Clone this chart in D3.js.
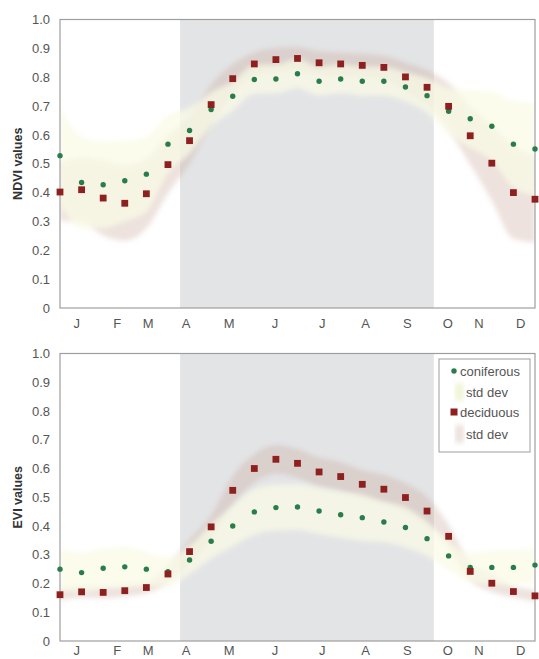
<!DOCTYPE html>
<html>
<head>
<meta charset="utf-8">
<script src="https://cdn.jsdelivr.net/npm/d3@7/dist/d3.min.js"></script>
<style>
  html, body { margin: 0; padding: 0; background: #fff; }
  svg { display: block; font-family: "Liberation Sans", Arial, sans-serif; }
</style>
</head>
<body>
<svg id="chart" width="539" height="659"></svg>
<script>
// 16-day composite dates (day of year)
const doy = [1, 17, 33, 49, 65, 81, 97, 113, 129, 145, 161, 177, 193, 209, 225, 241, 257, 273, 289, 305, 321, 337, 353];

// NDVI means and standard deviations
const ndviConiferous = [0.528, 0.435, 0.427, 0.441, 0.464, 0.568, 0.615, 0.688, 0.734, 0.792, 0.794, 0.812, 0.786, 0.794, 0.786, 0.786, 0.766, 0.736, 0.682, 0.656, 0.630, 0.568, 0.551];
const ndviConiferousSd = [0.17, 0.16, 0.15, 0.14, 0.13, 0.10, 0.08, 0.06, 0.05, 0.05, 0.05, 0.05, 0.05, 0.05, 0.05, 0.05, 0.05, 0.06, 0.08, 0.10, 0.12, 0.15, 0.16];
const ndviDeciduous = [0.402, 0.410, 0.381, 0.363, 0.396, 0.497, 0.580, 0.705, 0.795, 0.846, 0.861, 0.865, 0.850, 0.846, 0.841, 0.834, 0.801, 0.765, 0.699, 0.597, 0.502, 0.400, 0.377];
const ndviDeciduousSd = [0.10, 0.11, 0.13, 0.13, 0.12, 0.10, 0.08, 0.07, 0.05, 0.04, 0.04, 0.04, 0.04, 0.04, 0.04, 0.04, 0.05, 0.06, 0.08, 0.10, 0.13, 0.16, 0.15];

// EVI means and standard deviations
const eviConiferous = [0.250, 0.238, 0.253, 0.258, 0.250, 0.241, 0.282, 0.347, 0.400, 0.449, 0.464, 0.466, 0.452, 0.439, 0.429, 0.414, 0.395, 0.356, 0.296, 0.256, 0.256, 0.256, 0.264];
const eviConiferousSd = [0.07, 0.07, 0.07, 0.07, 0.06, 0.05, 0.05, 0.06, 0.07, 0.08, 0.08, 0.08, 0.08, 0.08, 0.08, 0.07, 0.07, 0.06, 0.05, 0.05, 0.06, 0.06, 0.06];
const eviDeciduous = [0.161, 0.171, 0.169, 0.175, 0.186, 0.233, 0.311, 0.397, 0.524, 0.600, 0.632, 0.618, 0.588, 0.572, 0.545, 0.528, 0.499, 0.452, 0.364, 0.242, 0.201, 0.172, 0.157];
const eviDeciduousSd = [0.02, 0.02, 0.02, 0.02, 0.02, 0.03, 0.04, 0.04, 0.05, 0.05, 0.05, 0.05, 0.05, 0.05, 0.05, 0.05, 0.05, 0.05, 0.04, 0.03, 0.03, 0.02, 0.02];

// Month labels and the day of year each label sits on
const monthLabels = ["J", "F", "M", "A", "M", "J", "J", "A", "S", "O", "N", "D"];
const monthLabelDoy = [13, 43, 66, 94, 126, 160, 195, 227, 258, 288, 311, 342];

// Growing season shading (day of year)
const seasonStart = 90;
const seasonEnd = 278;

const yTicks = [0, 0.1, 0.2, 0.3, 0.4, 0.5, 0.6, 0.7, 0.8, 0.9, 1.0];

const svg = d3.select("#chart");

const defs = svg.append("defs");
defs.append("filter").attr("id", "soft")
  .attr("x", "-10%").attr("y", "-20%").attr("width", "120%").attr("height", "140%")
  .append("feGaussianBlur").attr("stdDeviation", 2.4);

const colors = {
  con: "#2a7d4a",
  dec: "#8e2020",
  conBand: "rgba(250,251,230,0.75)",
  decBand: "rgba(200,165,150,0.32)",
  season: "#e3e4e6",
  frame: "#9e9e9e",
  text: "#555"
};

function panel(opts) {
  const { top, bottom, left, right, title, con, conSd, dec, decSd, labelTop, legend } = opts;
  const x = d3.scaleLinear().domain([1, 353]).range([left, right]);
  const y = d3.scaleLinear().domain([0, 1]).range([bottom, top]);
  const g = svg.append("g");

  const clipId = "clip-" + title.replace(/\s/g, "");
  defs.append("clipPath").attr("id", clipId)
    .append("rect").attr("x", left).attr("y", top).attr("width", right - left).attr("height", bottom - top);

  // growing season shading
  g.append("rect")
    .attr("x", x(seasonStart)).attr("y", top)
    .attr("width", x(seasonEnd) - x(seasonStart)).attr("height", bottom - top)
    .attr("fill", colors.season);

  const plot = g.append("g").attr("clip-path", `url(#${clipId})`);

  const band = (mean, sd) => d3.area()
    .x((d, i) => x(doy[i]))
    .y0((d, i) => y(mean[i] - sd[i]))
    .y1((d, i) => y(mean[i] + sd[i]))
    .curve(d3.curveMonotoneX)(mean);

  plot.append("path").attr("d", band(dec, decSd))
    .attr("fill", colors.decBand).attr("filter", "url(#soft)");
  plot.append("path").attr("d", band(con, conSd))
    .attr("fill", colors.conBand).attr("filter", "url(#soft)");

  // frame
  g.append("rect")
    .attr("x", left).attr("y", top).attr("width", right - left).attr("height", bottom - top)
    .attr("fill", "none").attr("stroke", colors.frame).attr("stroke-width", 1.2);

  // coniferous points
  g.append("g").selectAll("circle").data(con).join("circle")
    .attr("cx", (d, i) => x(doy[i]))
    .attr("cy", d => y(d))
    .attr("r", 2.7)
    .attr("fill", colors.con);

  // deciduous points
  g.append("g").selectAll("rect").data(dec).join("rect")
    .attr("x", (d, i) => x(doy[i]) - 3.4)
    .attr("y", d => y(d) - 3.4)
    .attr("width", 6.8).attr("height", 6.8)
    .attr("fill", colors.dec);

  // y axis labels
  const yAxis = d3.axisLeft(y).tickValues(yTicks)
    .tickFormat(d => d === 0 ? "0" : d3.format(".1f")(d))
    .tickSize(0).tickPadding(10);
  const ya = g.append("g").attr("transform", `translate(${left},0)`).call(yAxis);
  ya.select(".domain").remove();
  ya.selectAll("text").attr("fill", colors.text).attr("font-size", 13)
    .attr("font-family", "Liberation Sans, Arial, sans-serif");

  // month labels
  const xAxis = d3.axisBottom(x).tickValues(monthLabelDoy)
    .tickFormat((d, i) => monthLabels[i]).tickSize(0).tickPadding(0);
  const xa = g.append("g").attr("transform", `translate(0,${labelTop})`).call(xAxis);
  xa.select(".domain").remove();
  xa.selectAll("text").attr("fill", colors.text).attr("font-size", 13)
    .attr("font-family", "Liberation Sans, Arial, sans-serif");

  // axis title
  g.append("text")
    .attr("transform", `translate(22,${(top + bottom) / 2}) rotate(-90)`)
    .attr("text-anchor", "middle")
    .attr("font-size", 12.5).attr("font-weight", "bold").attr("fill", "#333")
    .text(title);

  if (legend) {
    const lx = 439, ly = 359, lw = 91, lh = 93;
    const lg = g.append("g");
    lg.append("rect").attr("x", lx).attr("y", ly).attr("width", lw).attr("height", lh)
      .attr("fill", "#fff").attr("stroke", colors.frame).attr("stroke-width", 1);
    const items = [
      { label: "coniferous", kind: "con", cy: ly + 12 },
      { label: "std dev", kind: "conBand", cy: ly + 33 },
      { label: "deciduous", kind: "dec", cy: ly + 53 },
      { label: "std dev", kind: "decBand", cy: ly + 75 }
    ];
    items.forEach(it => {
      if (it.kind === "con") {
        lg.append("circle").attr("cx", lx + 15).attr("cy", it.cy)
          .attr("r", 2.7).attr("fill", colors.con);
      } else if (it.kind === "dec") {
        lg.append("rect").attr("x", lx + 11.5).attr("y", it.cy - 3.5)
          .attr("width", 7).attr("height", 7).attr("fill", colors.dec);
      } else {
        lg.append("rect").attr("x", lx + 16).attr("y", it.cy - 9)
          .attr("width", 9).attr("height", 18)
          .attr("fill", it.kind === "conBand" ? "rgba(238,242,205,0.8)" : colors.decBand)
          .attr("filter", "url(#soft)");
      }
      lg.append("text")
        .attr("x", it.kind === "con" || it.kind === "dec" ? lx + 21 : lx + 27)
        .attr("y", it.cy).attr("dy", "0.35em")
        .attr("font-size", 13).attr("fill", colors.text)
        .text(it.label);
    });
  }
}

panel({
  top: 19.5, bottom: 308, left: 60, right: 535, title: "NDVI values",
  con: ndviConiferous, conSd: ndviConiferousSd, dec: ndviDeciduous, decSd: ndviDeciduousSd,
  labelTop: 319, legend: false
});

panel({
  top: 353.5, bottom: 641, left: 60, right: 535, title: "EVI values",
  con: eviConiferous, conSd: eviConiferousSd, dec: eviDeciduous, decSd: eviDeciduousSd,
  labelTop: 646, legend: true
});
</script>
</body>
</html>
